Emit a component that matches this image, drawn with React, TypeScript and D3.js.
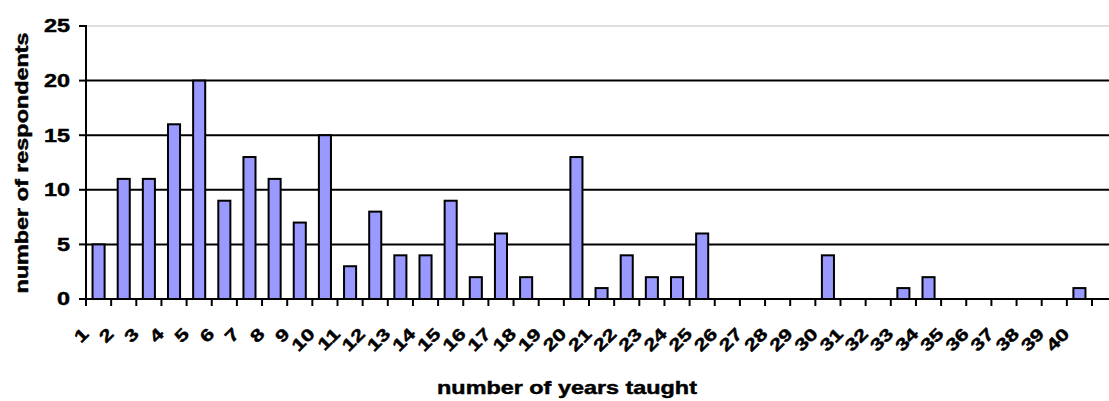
import React from "react";
import * as d3 from "d3";

// Years of teaching experience (categories) and respondent counts
const years: string[] = Array.from({ length: 40 }, (_, i) => String(i + 1));
const respondents: number[] = [
  5, 11, 11, 16, 20, 9, 13, 11, 7, 15,
  3, 8, 4, 4, 9, 2, 6, 2, 0, 13,
  1, 4, 2, 2, 6, 0, 0, 0, 0, 4,
  0, 0, 1, 2, 0, 0, 0, 0, 0, 1,
];
const yTicks: number[] = [0, 5, 10, 15, 20, 25];

const W = 1109;
const H = 401;
const left = 86;
const right = 1092;
const top = 26;
const bottom = 299;
const FONT = "Arial, 'Liberation Sans', Helvetica, sans-serif";
const WIDE = 1.3; // wide bold lettering

type LabelProps = {
  x: number;
  y: number;
  angle?: number;
  size: number;
  anchor: "start" | "middle" | "end";
  dy?: string;
  children: React.ReactNode;
};

function Label({ x, y, angle = 0, size, anchor, dy, children }: LabelProps) {
  return (
    <text
      transform={`translate(${x},${y}) rotate(${angle}) scale(${WIDE},1)`}
      textAnchor={anchor}
      dy={dy}
      fontSize={size}
      fontWeight="bold"
      fill="#000"
      stroke="#000"
      strokeWidth={0.45}
    >
      {children}
    </text>
  );
}

export default function App() {
  const x = d3.scaleBand<string>().domain(years).range([left, right]).paddingInner(0.52).paddingOuter(0.26);
  const slot = d3.scaleBand<string>().domain(years).range([left, right]);
  const y = d3.scaleLinear().domain([0, 25]).range([bottom, top]);

  const tickXs = [...years.map((c) => slot(c) as number), right];

  return (
    <svg
      width={W}
      height={H}
      style={{ position: "absolute", left: 0, top: 0, display: "block", background: "#fff" }}
      fontFamily={FONT}
    >
      {/* plot area top border */}
      <line x1={left} x2={W} y1={y(25)} y2={y(25)} stroke="#d4d4d4" strokeWidth={1.5} />
      {/* horizontal gridlines */}
      {yTicks.filter((t) => t > 0 && t < 25).map((t) => (
        <line key={"g" + t} x1={left} x2={W} y1={y(t)} y2={y(t)} stroke="#000" strokeWidth={2} />
      ))}

      {/* bars */}
      {years.map((c, i) =>
        respondents[i] > 0 ? (
          <rect
            key={"b" + c}
            x={x(c)}
            y={y(respondents[i])}
            width={x.bandwidth()}
            height={y(0) - y(respondents[i])}
            fill="#9999ff"
            stroke="#000"
            strokeWidth={2}
          />
        ) : null
      )}

      {/* y axis */}
      <line x1={left} x2={left} y1={y(25) - 1} y2={y(0) + 7} stroke="#000" strokeWidth={2} />
      {yTicks.map((t) => (
        <g key={"yt" + t}>
          <line x1={left - 7} x2={left} y1={y(t)} y2={y(t)} stroke="#000" strokeWidth={2} />
          <Label x={70} y={y(t)} dy="0.36em" anchor="end" size={18}>
            {t}
          </Label>
        </g>
      ))}

      {/* x axis */}
      <line x1={left - 7} x2={W} y1={y(0)} y2={y(0)} stroke="#000" strokeWidth={2} />
      {tickXs.map((tx, i) => (
        <line key={"xt" + i} x1={tx} x2={tx} y1={y(0)} y2={y(0) + 7} stroke="#000" strokeWidth={2} />
      ))}
      {years.map((c) => (
        <Label
          key={"xl" + c}
          x={(slot(c) as number) + slot.bandwidth() / 2 - 9}
          y={335}
          angle={-45}
          anchor="end"
          size={17}
        >
          {c}
        </Label>
      ))}

      {/* axis titles */}
      <Label x={567} y={394} anchor="middle" size={18}>
        number of years taught
      </Label>
      <Label x={28} y={163} angle={-90} anchor="middle" size={18}>
        number of respondents
      </Label>
    </svg>
  );
}
